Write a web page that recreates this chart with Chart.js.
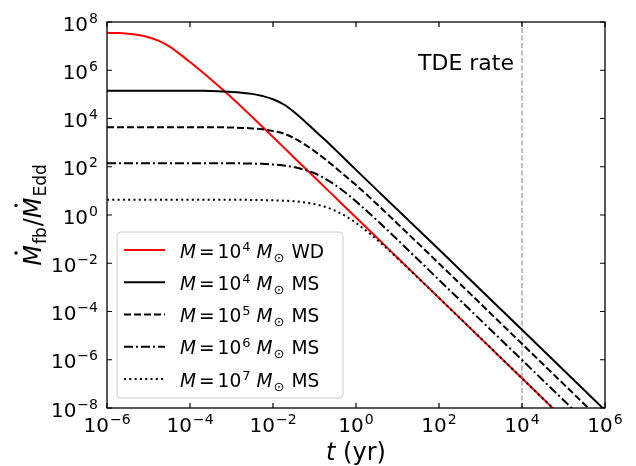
<!DOCTYPE html>
<html>
<head>
<meta charset="utf-8">
<script src="https://cdn.jsdelivr.net/npm/chart.js@4.4.1/dist/chart.umd.min.js"></script>
<style>
  html, body { margin: 0; padding: 0; background: #fff; }
  #c { display: block; }
</style>
</head>
<body>
<canvas id="c" width="636" height="466"></canvas>
<script>
// time in years, quarter-decade samples through the bends
var tYr = [1e-6, 1.78e-6, 3.16e-6, 5.62e-6, 1e-5, 1.78e-5, 3.16e-5, 5.62e-5,
  1e-4, 1.78e-4, 3.16e-4, 5.62e-4, 1e-3, 1.78e-3, 3.16e-3, 5.62e-3,
  1e-2, 1.78e-2, 3.16e-2, 5.62e-2, 0.1, 0.178, 0.316, 0.562, 1, 3.16, 10, 100, 1e4, 1e6];

var wd4 = [3.55e7, 3.47e7, 3.27e7, 2.88e7, 2.34e7, 1.66e7, 9.77e6, 4.79e6,
  2.19e6, 9.77e5, 4.27e5, 1.78e5, 7.41e4, 2.95e4, 1.15e4, 4.42e3,
  1.70e3, 652, 249, 95.5, 36.6, 14.0, 5.37, 2.06, 0.789, 0.116, 0.0170, 3.66e-4, 1.70e-7, 7.9e-11];
var ms4 = [1.41e5, 1.41e5, 1.41e5, 1.41e5, 1.41e5, 1.41e5, 1.41e5, 1.41e5,
  1.41e5, 1.40e5, 1.38e5, 1.32e5, 1.26e5, 1.17e5, 1.05e5, 8.51e4,
  6.31e4, 3.89e4, 1.91e4, 8.13e3, 3.24e3, 1.32e3, 513, 195, 74.1, 11.0, 1.66, 0.0372, 1.74e-5, 8.1e-9];
var ms5 = [4.37e3, 4.37e3, 4.37e3, 4.37e3, 4.37e3, 4.37e3, 4.37e3, 4.37e3,
  4.37e3, 4.37e3, 4.37e3, 4.32e3, 4.22e3, 4.07e3, 3.89e3, 3.55e3,
  3.02e3, 2.40e3, 1.55e3, 871, 447, 209, 93.3, 40.7, 17.4, 2.88, 0.437, 9.77e-3, 4.57e-6, 2.14e-9];
var ms6 = [141, 141, 141, 141, 141, 141, 141, 141,
  141, 141, 141, 140, 139, 138, 135, 132,
  124, 113, 97.7, 75.9, 53.7, 32.4, 17.4, 8.32, 3.67, 0.617, 0.0944, 2.04e-3, 9.77e-7, 4.57e-10];
var ms7 = [4.27, 4.27, 4.27, 4.27, 4.27, 4.27, 4.27, 4.27,
  4.27, 4.27, 4.27, 4.27, 4.27, 4.27, 4.21, 4.16,
  4.07, 3.94, 3.72, 3.36, 2.84, 2.19, 1.50, 0.898, 0.471, 0.0966, 0.0160, 3.63e-4, 1.70e-7, 7.9e-11];

var tdeRate = 1e4;
var xTickExp = [-6, -4, -2, 0, 2, 4, 6];
var yTickExp = [-8, -6, -4, -2, 0, 2, 4, 6, 8];

var legendLabels = [
  {exp: '4', kind: 'WD'},
  {exp: '4', kind: 'MS'},
  {exp: '5', kind: 'MS'},
  {exp: '6', kind: 'MS'},
  {exp: '7', kind: 'MS'}
];

function pts(ys) {
  return tYr.map(function(t, i) { return {x: t, y: ys[i]}; });
}

var FONT = '"DejaVu Sans", "Liberation Sans", sans-serif';

function ds(ys, color, dash, order) {
  return {
    data: pts(ys),
    borderColor: color,
    borderWidth: 2,
    borderDash: dash,
    borderCapStyle: 'butt',
    pointRadius: 0,
    fill: false,
    cubicInterpolationMode: 'monotone',
    order: order
  };
}

// draw "10^exp" with mathtext-like superscript
function drawPow(ctx, exp, x, y, align) {
  var e = String(exp).replace('-', '\u2212');
  ctx.font = '20px ' + FONT;
  var wb = ctx.measureText('10').width;
  ctx.font = '14px ' + FONT;
  var we = ctx.measureText(e).width;
  var w = wb + 1 + we;
  var x0 = align === 'right' ? x - w : x - w / 2;
  ctx.textAlign = 'left';
  ctx.textBaseline = 'alphabetic';
  ctx.font = '20px ' + FONT;
  ctx.fillText('10', x0, y);
  ctx.font = '14px ' + FONT;
  ctx.fillText(e, x0 + wb + 1, y - 8);
}

// sequence of text pieces
function drawPieces(ctx, pieces, x, y) {
  var cx = x;
  pieces.forEach(function(p) {
    ctx.font = (p.italic ? 'italic ' : '') + p.size + 'px ' + FONT;
    cx += p.pre || 0;
    ctx.fillText(p.t, cx, y + (p.dy || 0));
    cx += ctx.measureText(p.t).width + (p.post || 0);
  });
  return cx;
}

var deco = {
  id: 'deco',
  beforeDraw: function(chart) {
    var ctx = chart.ctx;
    ctx.save();
    ctx.fillStyle = '#fff';
    ctx.fillRect(0, 0, chart.width, chart.height);
    ctx.restore();
  },
  afterDatasetsDraw: function(chart) {
    var ctx = chart.ctx;
    var a = chart.chartArea;
    var xs = chart.scales.x, ys = chart.scales.y;
    ctx.save();

    // TDE rate text
    ctx.fillStyle = '#000';
    ctx.font = '22px ' + FONT;
    ctx.textAlign = 'right';
    ctx.textBaseline = 'alphabetic';
    ctx.fillText('TDE rate', xs.getPixelForValue(tdeRate) - 8, 70);

    // legend box
    var lx = 117, ly = 232, lw = 226, lh = 166, r = 4;
    ctx.beginPath();
    ctx.moveTo(lx + r, ly);
    ctx.arcTo(lx + lw, ly, lx + lw, ly + lh, r);
    ctx.arcTo(lx + lw, ly + lh, lx, ly + lh, r);
    ctx.arcTo(lx, ly + lh, lx, ly, r);
    ctx.arcTo(lx, ly, lx + lw, ly, r);
    ctx.closePath();
    ctx.fillStyle = 'rgba(255,255,255,0.8)';
    ctx.fill();
    ctx.strokeStyle = '#cccccc';
    ctx.lineWidth = 1;
    ctx.stroke();

    var rowY = [250, 282.3, 314.5, 346.7, 379];
    var sets = chart.data.datasets;
    legendLabels.forEach(function(lab, i) {
      var d = sets[i];
      var yy = rowY[i];
      ctx.beginPath();
      ctx.setLineDash(d.borderDash || []);
      ctx.strokeStyle = d.borderColor;
      ctx.lineWidth = 2;
      ctx.lineCap = 'butt';
      ctx.moveTo(124, yy);
      ctx.lineTo(165, yy);
      ctx.stroke();
      ctx.setLineDash([]);
      ctx.fillStyle = '#000';
      ctx.textAlign = 'left';
      ctx.textBaseline = 'alphabetic';
      drawPieces(ctx, [
        {t: 'M', italic: true, size: 18.6},
        {t: '=', size: 18.6, pre: 3, post: 3},
        {t: '10', size: 18.6},
        {t: lab.exp, size: 13, dy: -7, pre: 1},
        {t: 'M', italic: true, size: 18.6, pre: 6},
        {t: '\u2299', size: 13, dy: 4, pre: 1},
        {t: lab.kind, size: 18.6, pre: 7}
      ], 180, yy + 7.7);
    });

    // frame
    ctx.strokeStyle = '#000';
    ctx.lineWidth = 1.3;
    ctx.strokeRect(a.left, a.top, a.right - a.left, a.bottom - a.top);

    // inward ticks on all four sides
    ctx.lineWidth = 1.2;
    var tl = 5;
    xTickExp.forEach(function(k) {
      var px = xs.getPixelForValue(Math.pow(10, k));
      ctx.beginPath();
      ctx.moveTo(px, a.bottom); ctx.lineTo(px, a.bottom - tl);
      ctx.moveTo(px, a.top); ctx.lineTo(px, a.top + tl);
      ctx.stroke();
      ctx.fillStyle = '#000';
      drawPow(ctx, k, px, 432, 'center');
    });
    yTickExp.forEach(function(k) {
      var py = ys.getPixelForValue(Math.pow(10, k));
      ctx.beginPath();
      ctx.moveTo(a.left, py); ctx.lineTo(a.left + tl, py);
      ctx.moveTo(a.right, py); ctx.lineTo(a.right - tl, py);
      ctx.stroke();
      ctx.fillStyle = '#000';
      drawPow(ctx, k, 98, py + 8.5, 'right');
    });

    // x axis label
    ctx.fillStyle = '#000';
    ctx.textAlign = 'left';
    ctx.font = 'italic 24px ' + FONT;
    var wt = ctx.measureText('t').width;
    ctx.font = '24px ' + FONT;
    var wr = ctx.measureText(' (yr)').width;
    var x0 = (a.left + a.right) / 2 - (wt + wr) / 2;
    ctx.font = 'italic 24px ' + FONT;
    ctx.fillText('t', x0, 460);
    ctx.font = '24px ' + FONT;
    ctx.fillText(' (yr)', x0 + wt, 460);

    // y axis label, rotated
    ctx.save();
    ctx.translate(41, (a.top + a.bottom) / 2);
    ctx.rotate(-Math.PI / 2);
    var parts = [
      {t: 'M', italic: true, size: 24, dot: true},
      {t: 'fb', size: 17, dy: 5, pre: 1},
      {t: '/', size: 24, pre: 1},
      {t: 'M', italic: true, size: 24, dot: true},
      {t: 'Edd', size: 17, dy: 5, pre: 1}
    ];
    var tot = 0;
    parts.forEach(function(p) {
      ctx.font = (p.italic ? 'italic ' : '') + p.size + 'px ' + FONT;
      tot += (p.pre || 0) + ctx.measureText(p.t).width;
    });
    var cx = -tot / 2;
    parts.forEach(function(p) {
      ctx.font = (p.italic ? 'italic ' : '') + p.size + 'px ' + FONT;
      cx += p.pre || 0;
      var w = ctx.measureText(p.t).width;
      ctx.fillText(p.t, cx, p.dy || 0);
      if (p.dot) {
        ctx.beginPath();
        ctx.arc(cx + w * 0.62, -25, 1.7, 0, Math.PI * 2);
        ctx.fill();
      }
      cx += w;
    });
    ctx.restore();

    ctx.restore();
  }
};

var chart = new Chart(document.getElementById('c'), {
  type: 'line',
  data: {
    datasets: [
      ds(wd4, '#ff0000', [], 5),
      ds(ms4, '#000000', [], 4),
      ds(ms5, '#000000', [7, 3], 3),
      ds(ms6, '#000000', [9, 3, 2, 3], 2),
      ds(ms7, '#000000', [2, 3.3], 1),
      {
        data: [{x: tdeRate, y: 1e-8}, {x: tdeRate, y: 1e8}],
        borderColor: '#808080',
        borderWidth: 1,
        borderDash: [5, 2.5],
        pointRadius: 0,
        order: 6
      }
    ]
  },
  options: {
    responsive: false,
    animation: false,
    devicePixelRatio: 1,
    layout: { padding: { left: 107, top: 22, right: 31, bottom: 58 } },
    plugins: { legend: { display: false }, tooltip: { enabled: false } },
    scales: {
      x: { type: 'logarithmic', min: 1e-6, max: 1e6, display: false },
      y: { type: 'logarithmic', min: 1e-8, max: 1e8, display: false }
    }
  },
  plugins: [deco]
});
</script>
</body>
</html>
